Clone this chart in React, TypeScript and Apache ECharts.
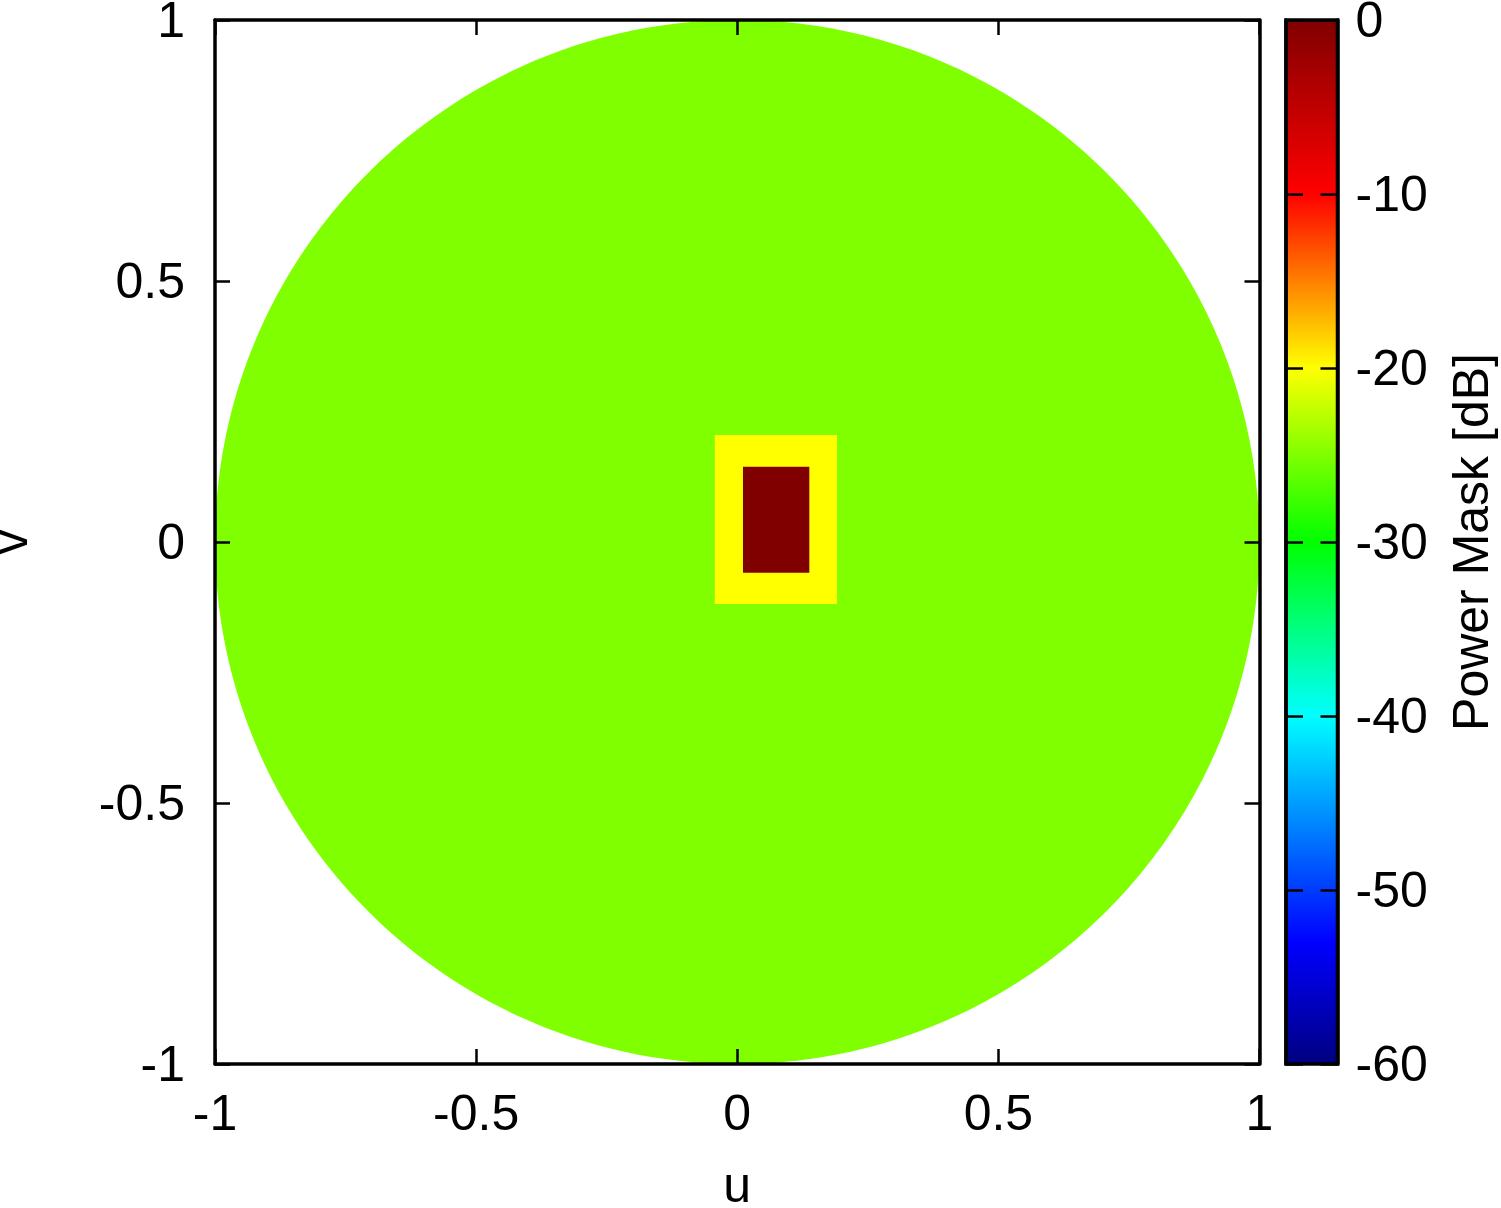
import React, { useEffect, useRef } from "react";
import * as echarts from "echarts";

// ---- data ----
const U_RANGE = [-1, 1];
const V_RANGE = [-1, 1];
const UV_TICK_STEP = 0.5;

const DB_RANGE = [-60, 0];
const DB_TICK_STEP = 10;

// regions of the power mask (bounding boxes in u/v, level in dB)
const REGION_SHAPES = ["disc", "box", "box"];
const REGION_U_MIN = [-1, -0.043, 0.011];
const REGION_U_MAX = [1, 0.191, 0.138];
const REGION_V_MIN = [-1, -0.119, -0.059];
const REGION_V_MAX = [1, 0.205, 0.144];
const REGION_LEVEL_DB = [-25, -20, 0];

// colour palette (dB -> colour)
const PALETTE_DB = [-60, -53, -40, -30, -20, -10, 0];
const PALETTE_COLORS = ["#000080", "#0000ff", "#00ffff", "#00ff00", "#ffff00", "#ff0000", "#800000"];

const FONT = "'Liberation Sans', Arial, Helvetica, sans-serif";

function hexToRgb(h: string) {
  const n = parseInt(h.slice(1), 16);
  return [(n >> 16) & 255, (n >> 8) & 255, n & 255];
}
function paletteColor(db: number) {
  if (db <= PALETTE_DB[0]) return PALETTE_COLORS[0];
  for (let i = 1; i < PALETTE_DB.length; i++) {
    if (db <= PALETTE_DB[i]) {
      const t = (db - PALETTE_DB[i - 1]) / (PALETTE_DB[i] - PALETTE_DB[i - 1]);
      const a = hexToRgb(PALETTE_COLORS[i - 1]);
      const b = hexToRgb(PALETTE_COLORS[i]);
      const c = a.map((v, k) => Math.round(v + (b[k] - v) * t));
      return `rgb(${c[0]},${c[1]},${c[2]})`;
    }
  }
  return PALETTE_COLORS[PALETTE_COLORS.length - 1];
}

const fmt = (v: number) => {
  const r = Math.round(v * 100) / 100;
  return String(r);
};

export default function App() {
  const ref = useRef<HTMLDivElement>(null);
  useEffect(() => {
    document.body.style.margin = "0";
    if (!ref.current) return;
    const chart = echarts.init(ref.current, undefined, { renderer: "svg" });

    const regionData = REGION_SHAPES.map((_, i) => [
      REGION_U_MIN[i],
      REGION_V_MIN[i],
      REGION_U_MAX[i],
      REGION_V_MAX[i],
      REGION_LEVEL_DB[i],
    ]);

    const axisLine = { show: true, onZero: false, lineStyle: { color: "#000", width: 3.5 } };
    const tick = (len: number) => ({ show: true, inside: true, length: len, lineStyle: { color: "#000", width: 2.5 } });
    const label = (margin: number) => ({
      show: true,
      fontSize: 50,
      color: "#000",
      fontFamily: FONT,
      margin,
      formatter: fmt,
    });
    const nameStyle = { fontSize: 50, color: "#000", fontFamily: FONT };

    const option: any = {
      animation: false,
      backgroundColor: "#fff",
      grid: [
        { left: 215, top: 20, width: 1044.5, height: 1044, containLabel: false, outerBoundsMode: "none" },
        { left: 1286, top: 20, width: 51.5, height: 1044, containLabel: false, outerBoundsMode: "none" },
      ],
      xAxis: [
        {
          gridIndex: 0, type: "value", min: U_RANGE[0], max: U_RANGE[1], interval: UV_TICK_STEP,
          position: "bottom", z: 5, axisLine, axisTick: tick(15), axisLabel: label(24), splitLine: { show: false },
          name: "u", nameLocation: "middle", nameGap: 96, nameTextStyle: nameStyle,
        },
        {
          gridIndex: 0, type: "value", min: U_RANGE[0], max: U_RANGE[1], interval: UV_TICK_STEP,
          position: "top", z: 5, axisLine, axisTick: tick(15), axisLabel: { show: false }, splitLine: { show: false },
        },
        { gridIndex: 1, type: "value", min: 0, max: 1, show: false },
      ],
      yAxis: [
        {
          gridIndex: 0, type: "value", min: V_RANGE[0], max: V_RANGE[1], interval: UV_TICK_STEP,
          position: "left", z: 5, axisLine, axisTick: tick(15), axisLabel: label(30), splitLine: { show: false },
          name: "v", nameLocation: "middle", nameGap: 180, nameRotate: 90, nameTextStyle: nameStyle,
        },
        {
          gridIndex: 0, type: "value", min: V_RANGE[0], max: V_RANGE[1], interval: UV_TICK_STEP,
          position: "right", z: 5, axisLine, axisTick: tick(15), axisLabel: { show: false }, splitLine: { show: false },
        },
        {
          gridIndex: 1, type: "value", min: DB_RANGE[0], max: DB_RANGE[1], interval: DB_TICK_STEP,
          position: "right", z: 5, axisLine, axisTick: tick(17), axisLabel: label(18), splitLine: { show: false },
          name: "Power Mask [dB]", nameLocation: "middle", nameGap: 108, nameRotate: 90, nameTextStyle: nameStyle,
        },
        {
          gridIndex: 1, type: "value", min: DB_RANGE[0], max: DB_RANGE[1], interval: DB_TICK_STEP,
          position: "left", z: 5, axisLine, axisTick: tick(17), axisLabel: { show: false }, splitLine: { show: false },
        },
      ],
      series: [
        {
          type: "custom",
          name: "Power Mask",
          xAxisIndex: 0,
          yAxisIndex: 0,
          z: 1,
          clip: true,
          encode: { x: [0, 2], y: [1, 3] },
          data: regionData,
          renderItem: (params: any, api: any) => {
            const p0 = api.coord([api.value(0), api.value(1)]);
            const p1 = api.coord([api.value(2), api.value(3)]);
            const fill = paletteColor(api.value(4));
            const x = Math.min(p0[0], p1[0]);
            const y = Math.min(p0[1], p1[1]);
            const w = Math.abs(p1[0] - p0[0]);
            const h = Math.abs(p1[1] - p0[1]);
            if (REGION_SHAPES[params.dataIndex] === "disc") {
              return {
                type: "ellipse",
                shape: { cx: x + w / 2, cy: y + h / 2, rx: w / 2, ry: h / 2 },
                style: { fill },
              };
            }
            return { type: "rect", shape: { x, y, width: w, height: h }, style: { fill } };
          },
        },
        {
          type: "custom",
          name: "Colour bar",
          xAxisIndex: 2,
          yAxisIndex: 2,
          z: 1,
          encode: { x: [0, 2], y: [1, 3] },
          data: [[0, DB_RANGE[0], 1, DB_RANGE[1]]],
          renderItem: (params: any, api: any) => {
            const p0 = api.coord([api.value(0), api.value(1)]);
            const p1 = api.coord([api.value(2), api.value(3)]);
            const x = Math.min(p0[0], p1[0]);
            const y = Math.min(p0[1], p1[1]);
            const w = Math.abs(p1[0] - p0[0]);
            const h = Math.abs(p1[1] - p0[1]);
            const span = DB_RANGE[1] - DB_RANGE[0];
            return {
              type: "rect",
              shape: { x, y, width: w, height: h },
              style: {
                fill: {
                  type: "linear", x: 0, y: 1, x2: 0, y2: 0,
                  colorStops: PALETTE_DB.map((d, i) => ({ offset: (d - DB_RANGE[0]) / span, color: PALETTE_COLORS[i] })),
                },
                stroke: "#000",
                lineWidth: 3.5,
              },
            };
          },
        },
      ],
    };
    chart.setOption(option);
    return () => chart.dispose();
  }, []);
  return <div ref={ref} style={{ width: 1501, height: 1208 }} />;
}
